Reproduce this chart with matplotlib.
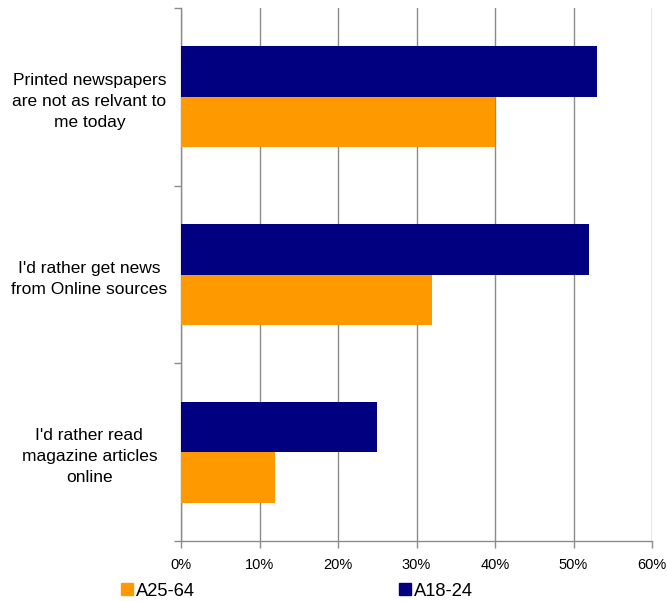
import matplotlib.pyplot as plt
import numpy as np
from matplotlib.patches import Patch
from matplotlib.ticker import PercentFormatter

plt.rcParams['font.family'] = ['Liberation Sans', 'DejaVu Sans']

categories = [
    "Printed newspapers\nare not as relvant to\nme today",
    "I'd rather get news\nfrom Online sources",
    "I'd rather read\nmagazine articles\nonline",
]
a25_64 = [40, 32, 12]
a18_24 = [53, 52, 25]
series_names = ["A25-64", "A18-24"]

ORANGE = "#FF9900"
NAVY = "#000080"
GRID = "#8c8c8c"


def main():
    fig = plt.figure(figsize=(6.67, 6.01), dpi=100)
    ax = fig.add_axes([181 / 667, 1 - 541 / 601, (652 - 181) / 667, (541 - 8) / 601])

    y = np.arange(len(categories))
    h = 0.285
    ax.barh(y - h / 2, a18_24, h, color=NAVY, zorder=3)
    ax.barh(y + h / 2, a25_64, h, color=ORANGE, zorder=3)

    ax.set_xlim(0, 60)
    ax.set_ylim(len(categories) - 0.5, -0.5)
    ax.set_xticks(np.arange(0, 61, 10))
    ax.xaxis.set_major_formatter(PercentFormatter(decimals=0))
    ax.grid(axis='x', color=GRID, linewidth=1, zorder=0)

    # labels centred on categories, tick marks on the boundaries
    ax.set_yticks(y)
    ax.set_yticklabels(categories, fontsize=12.5, ha='center', linespacing=1.5)
    ax.tick_params(axis='y', which='major', length=0, pad=66)
    ax.set_yticks(np.arange(-0.5, len(categories)), minor=True)
    ax.tick_params(axis='y', which='minor', length=5, color=GRID, width=1)
    ax.tick_params(axis='x', length=5, color=GRID, width=1, labelsize=10.5, pad=7)

    for s in ['top', 'right']:
        ax.spines[s].set_visible(False)
    for s in ['left', 'bottom']:
        ax.spines[s].set_color(GRID)
        ax.spines[s].set_linewidth(1)

    handles = [Patch(color=ORANGE), Patch(color=NAVY)]
    fig.legend(handles, series_names, loc='center left', bbox_to_anchor=(121 / 667, 1 - 591 / 601),
               ncol=2, frameon=False, fontsize=13.2, handlelength=0.68, handleheight=0.68,
               handletextpad=0.15, columnspacing=11.1, borderaxespad=0, borderpad=0)

    fig.savefig("out.png", dpi=100)


if __name__ == '__main__':
    main()
